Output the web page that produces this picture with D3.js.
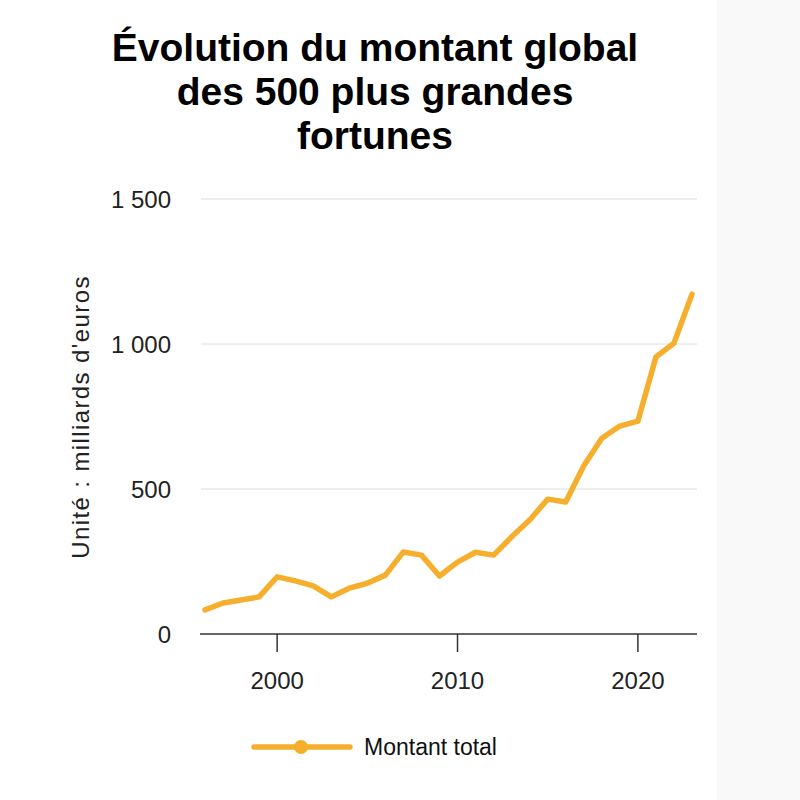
<!DOCTYPE html>
<head>
  <meta charset="utf-8">
  <title>Fortunes</title>
  <script src="https://cdn.jsdelivr.net/npm/d3@7"></script>
  <style>
    body { margin: 0; background: #fff; }
    text { font-family: "Liberation Sans", Arial, sans-serif; }
  </style>
</head>
<body>
<script>
var WIDTH = 800, HEIGHT = 800;

// data (milliards d'euros)
var years = [1996, 1997, 1998, 1999, 2000, 2001, 2002, 2003, 2004, 2005, 2006, 2007, 2008, 2009,
             2010, 2011, 2012, 2013, 2014, 2015, 2016, 2017, 2018, 2019, 2020, 2021, 2022, 2023];
var montant = [83, 107, 117, 128, 197, 183, 166, 128, 158, 175, 203, 283, 272, 200,
               248, 282, 272, 335, 393, 465, 455, 580, 675, 717, 734, 955, 1003, 1172];
var yTicks = [0, 500, 1000, 1500];
var xTicks = [2000, 2010, 2020];
var titleLines = ["Évolution du montant global", "des 500 plus grandes", "fortunes"];

var svg = d3.select("body").append("svg")
            .attr("width", WIDTH)
            .attr("height", HEIGHT);

// pale strip on the right of the original image
svg.append("rect").attr("x", 717).attr("y", 0).attr("width", 83).attr("height", HEIGHT)
   .attr("fill", "#f9f9f9");

var x = d3.scaleLinear().domain([1996, 2023]).range([205, 692]);
var y = d3.scaleLinear().domain([0, 1500]).range([634, 199]);

// title
svg.append("g").selectAll("text")
   .data(titleLines)
   .enter().append("text")
   .attr("x", 375)
   .attr("y", function(d, i){ return 61 + i * 44; })
   .attr("text-anchor", "middle")
   .attr("font-size", 39)
   .attr("font-weight", "bold")
   .attr("fill", "#000")
   .text(function(d){ return d; });

// gridlines + y labels
var fmt = function(v){ return d3.format(",")(v).replace(/,/g, " "); };
var yAxis = svg.append("g");
yAxis.selectAll("line")
     .data(yTicks.filter(function(d){ return d > 0; }))
     .enter().append("line")
     .attr("x1", 201).attr("x2", 697)
     .attr("y1", function(d){ return y(d); })
     .attr("y2", function(d){ return y(d); })
     .attr("stroke", "#dcdcdc").attr("stroke-width", 1);
yAxis.selectAll("text")
     .data(yTicks)
     .enter().append("text")
     .attr("x", 171)
     .attr("y", function(d){ return y(d) + 9; })
     .attr("text-anchor", "end")
     .attr("font-size", 24)
     .attr("fill", "#222")
     .text(fmt);

// x axis
var xAxis = svg.append("g");
xAxis.append("line")
     .attr("x1", 200).attr("x2", 697)
     .attr("y1", y(0)).attr("y2", y(0))
     .attr("stroke", "#333").attr("stroke-width", 1.5);
xAxis.selectAll(".tick")
     .data(xTicks)
     .enter().append("line")
     .attr("x1", function(d){ return x(d); })
     .attr("x2", function(d){ return x(d); })
     .attr("y1", y(0)).attr("y2", y(0) + 18)
     .attr("stroke", "#333").attr("stroke-width", 1.5);
xAxis.selectAll("text")
     .data(xTicks)
     .enter().append("text")
     .attr("x", function(d){ return x(d); })
     .attr("y", 689)
     .attr("text-anchor", "middle")
     .attr("font-size", 24)
     .attr("fill", "#222")
     .text(function(d){ return d; });

// y axis title
svg.append("text")
   .attr("transform", "translate(89,417) rotate(-90)")
   .attr("text-anchor", "middle")
   .attr("font-size", 24)
   .attr("letter-spacing", 1.4)
   .attr("fill", "#222")
   .text("Unité : milliards d'euros");

// line
var line = d3.line()
             .x(function(d, i){ return x(years[i]); })
             .y(function(d){ return y(d); });
svg.append("path")
   .datum(montant)
   .attr("d", line)
   .attr("fill", "none")
   .attr("stroke", "#f6ae2d")
   .attr("stroke-width", 5.5)
   .attr("stroke-linejoin", "round")
   .attr("stroke-linecap", "round");

// legend
var leg = svg.append("g");
leg.append("line")
   .attr("x1", 254).attr("x2", 350).attr("y1", 747).attr("y2", 747)
   .attr("stroke", "#f6ae2d").attr("stroke-width", 5.5).attr("stroke-linecap", "round");
leg.append("circle")
   .attr("cx", 301).attr("cy", 747).attr("r", 7)
   .attr("fill", "#f6ae2d");
leg.append("text")
   .attr("x", 364).attr("y", 755)
   .attr("font-size", 23)
   .attr("fill", "#111")
   .text("Montant total");
</script>
</body>
